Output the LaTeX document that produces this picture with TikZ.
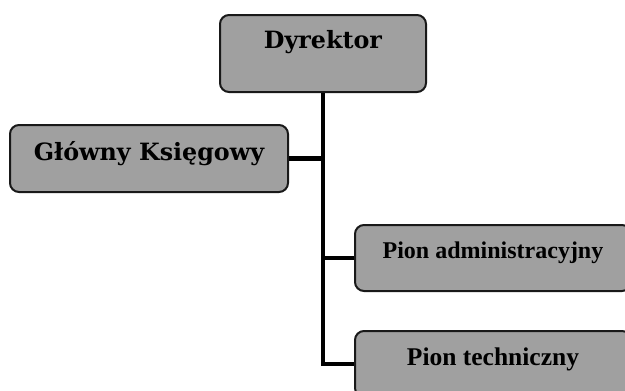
\documentclass[tikz,border=0pt]{standalone}
\usepackage{fontspec}
\newfontfamily\headfont{DejaVu Serif}
\newfontfamily\pionfont{Liberation Serif}
\definecolor{boxgray}{RGB}{160,160,160}
\newcommand{\lift}[2]{\raisebox{#1}[\height][\depth]{#2}}
\begin{document}
\begin{tikzpicture}[x=1pt,y=-1pt,
  orgbox/.style={draw=black!90, line width=2pt, fill=boxgray, rounded corners=9pt,
    inner sep=0pt, text=black},
  headtext/.style={font=\headfont\bfseries\fontsize{23.8}{27}\selectfont},
  piontext/.style={font=\pionfont\bfseries\fontsize{24}{27}\selectfont},
  piontextb/.style={font=\pionfont\bfseries\fontsize{25.5}{28}\selectfont},
  link/.style={line width=4.5pt, draw=black}]
\useasboundingbox (0,0) rectangle (625,391);
\clip (0,0) rectangle (625,391);
\node[orgbox, headtext, minimum width=206pt, minimum height=77pt] (dyr) at (323,53.5) {\lift{11pt}{Dyrektor}};
\node[orgbox, headtext, minimum width=278pt, minimum height=67pt] (gk) at (149,158.5) {\lift{5pt}{Główny Księgowy}};
\node[orgbox, piontext, minimum width=276pt, minimum height=66pt] (pa) at (493,258) {\lift{5pt}{Pion administracyjny}};
\node[orgbox, piontextb, minimum width=276pt, minimum height=66pt] (pt) at (493,364) {\lift{5pt}{Pion techniczny}};
\draw[link] (dyr.south) -- (dyr.south |- pt.west) -- (pt.west);
\draw[link] (gk.east) -- (gk.east -| dyr.south);
\draw[link] (pa.west -| dyr.south) -- (pa.west);
\end{tikzpicture}
\end{document}
